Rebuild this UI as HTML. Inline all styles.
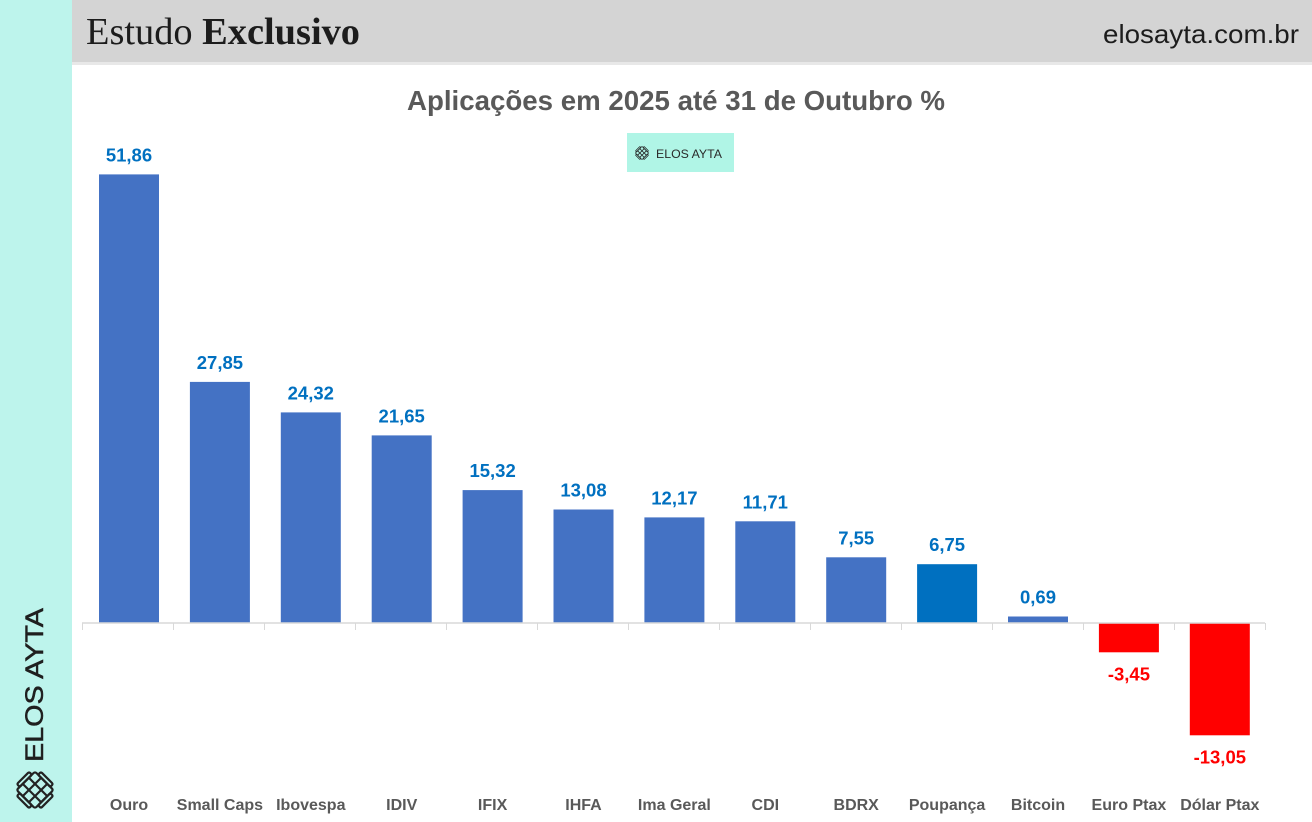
<!DOCTYPE html>
<html><head><meta charset="utf-8"><style>
html,body{margin:0;padding:0;background:#fff;}
svg{display:block;}
</style></head><body>
<svg width="1312" height="822" viewBox="0 0 1312 822" xmlns="http://www.w3.org/2000/svg" style="font-family:'Liberation Sans',sans-serif;">
<defs>
<g id="ico">
  <g transform="rotate(45)" fill="none" stroke="#222" stroke-width="2.2" stroke-linejoin="round">
    <rect x="-13" y="-13" width="26" height="26" rx="2"/>
    <line x1="-4.3" y1="-13" x2="-4.3" y2="13"/>
    <line x1="4.3" y1="-13" x2="4.3" y2="13"/>
    <line x1="-13" y1="-4.3" x2="13" y2="-4.3"/>
    <line x1="-13" y1="4.3" x2="13" y2="4.3"/>
    <rect x="-17" y="-8.6" width="4" height="17.2" rx="1.5"/>
    <rect x="13" y="-8.6" width="4" height="17.2" rx="1.5"/>
    <rect x="-8.6" y="-17" width="17.2" height="4" rx="1.5"/>
    <rect x="-8.6" y="13" width="17.2" height="4" rx="1.5"/>
  </g>
</g>
</defs>
<rect x="0" y="0" width="1312" height="822" fill="#ffffff"/>
<rect x="0" y="0" width="72" height="822" fill="#BDF4EC"/>
<rect x="72" y="0" width="1240" height="62" fill="#D4D4D4"/>
<rect x="72" y="62" width="1240" height="3" fill="#E8E8E8"/>

<text x="86" y="44" style="font-family:'Liberation Serif',serif;" font-size="38" fill="#1c1c1c" textLength="274" lengthAdjust="spacingAndGlyphs">Estudo <tspan font-weight="bold">Exclusivo</tspan></text>
<text x="1103" y="43" font-size="26" fill="#1c1c1c" textLength="196" lengthAdjust="spacingAndGlyphs">elosayta.com.br</text>

<text x="407" y="110" font-size="28" font-weight="bold" fill="#595959" textLength="538" lengthAdjust="spacingAndGlyphs">Aplicações em 2025 até 31 de Outubro %</text>

<rect x="627" y="133" width="107" height="39" fill="#B0F5E6"/>
<g transform="translate(642,153) scale(0.36)"><use href="#ico"/></g>
<text x="656" y="158" font-size="11.5" fill="#2a2a2a" textLength="66" lengthAdjust="spacingAndGlyphs">ELOS AYTA</text>

<text transform="translate(43,762) rotate(-90)" x="0" y="0" font-size="25" fill="#1f1f1f" stroke="#1f1f1f" stroke-width="0.5" textLength="154" lengthAdjust="spacingAndGlyphs">ELOS AYTA</text>
<g transform="translate(35,790)"><use href="#ico"/></g>

<!-- bars -->
<g>
<rect x="99" y="174.4" width="60" height="448.1" fill="#4472C4"/>
<rect x="189.9" y="381.9" width="60" height="240.6" fill="#4472C4"/>
<rect x="280.8" y="412.4" width="60" height="210.1" fill="#4472C4"/>
<rect x="371.7" y="435.4" width="60" height="187.1" fill="#4472C4"/>
<rect x="462.6" y="490.1" width="60" height="132.4" fill="#4472C4"/>
<rect x="553.5" y="509.5" width="60" height="113.0" fill="#4472C4"/>
<rect x="644.4" y="517.4" width="60" height="105.1" fill="#4472C4"/>
<rect x="735.3" y="521.3" width="60" height="101.2" fill="#4472C4"/>
<rect x="826.2" y="557.3" width="60" height="65.2" fill="#4472C4"/>
<rect x="917.1" y="564.2" width="60" height="58.3" fill="#0070C0"/>
<rect x="1008" y="616.5" width="60" height="6.0" fill="#4472C4"/>
<rect x="1098.9" y="622.5" width="60" height="29.8" fill="#FF0000"/>
<rect x="1189.8" y="622.5" width="60" height="112.8" fill="#FF0000"/>
</g>

<!-- axis -->
<line x1="82" y1="623" x2="1265" y2="623" stroke="#D9D9D9" stroke-width="1.5"/>
<g stroke="#D9D9D9" stroke-width="1">
<line x1="82.5" y1="623" x2="82.5" y2="630"/>
<line x1="173.5" y1="623" x2="173.5" y2="630"/>
<line x1="264.5" y1="623" x2="264.5" y2="630"/>
<line x1="355.5" y1="623" x2="355.5" y2="630"/>
<line x1="446.5" y1="623" x2="446.5" y2="630"/>
<line x1="537.5" y1="623" x2="537.5" y2="630"/>
<line x1="628.5" y1="623" x2="628.5" y2="630"/>
<line x1="719.5" y1="623" x2="719.5" y2="630"/>
<line x1="810.5" y1="623" x2="810.5" y2="630"/>
<line x1="901.5" y1="623" x2="901.5" y2="630"/>
<line x1="992.5" y1="623" x2="992.5" y2="630"/>
<line x1="1083.5" y1="623" x2="1083.5" y2="630"/>
<line x1="1174.5" y1="623" x2="1174.5" y2="630"/>
<line x1="1265.5" y1="623" x2="1265.5" y2="630"/>
</g>

<!-- value labels -->
<g font-size="18.5" font-weight="bold" fill="#0070C0" text-anchor="middle">
<text x="129" y="161.4">51,86</text>
<text x="219.9" y="368.9">27,85</text>
<text x="310.8" y="399.4">24,32</text>
<text x="401.7" y="422.4">21,65</text>
<text x="492.6" y="477.1">15,32</text>
<text x="583.5" y="496.5">13,08</text>
<text x="674.4" y="504.4">12,17</text>
<text x="765.3" y="508.3">11,71</text>
<text x="856.2" y="544.3">7,55</text>
<text x="947.1" y="551.2">6,75</text>
<text x="1038" y="603.5">0,69</text>
</g>
<g font-size="18.5" font-weight="bold" fill="#FF0000" text-anchor="middle">
<text x="1128.9" y="680.3">-3,45</text>
<text x="1219.8" y="763.3">-13,05</text>
</g>

<!-- category labels -->
<g font-size="16" font-weight="bold" fill="#595959" text-anchor="middle">
<text x="129" y="810">Ouro</text>
<text x="219.9" y="810">Small Caps</text>
<text x="310.8" y="810">Ibovespa</text>
<text x="401.7" y="810">IDIV</text>
<text x="492.6" y="810">IFIX</text>
<text x="583.5" y="810">IHFA</text>
<text x="674.4" y="810">Ima Geral</text>
<text x="765.3" y="810">CDI</text>
<text x="856.2" y="810">BDRX</text>
<text x="947.1" y="810">Poupança</text>
<text x="1038" y="810">Bitcoin</text>
<text x="1128.9" y="810">Euro Ptax</text>
<text x="1219.8" y="810">Dólar Ptax</text>
</g>
</svg>
</body></html>
